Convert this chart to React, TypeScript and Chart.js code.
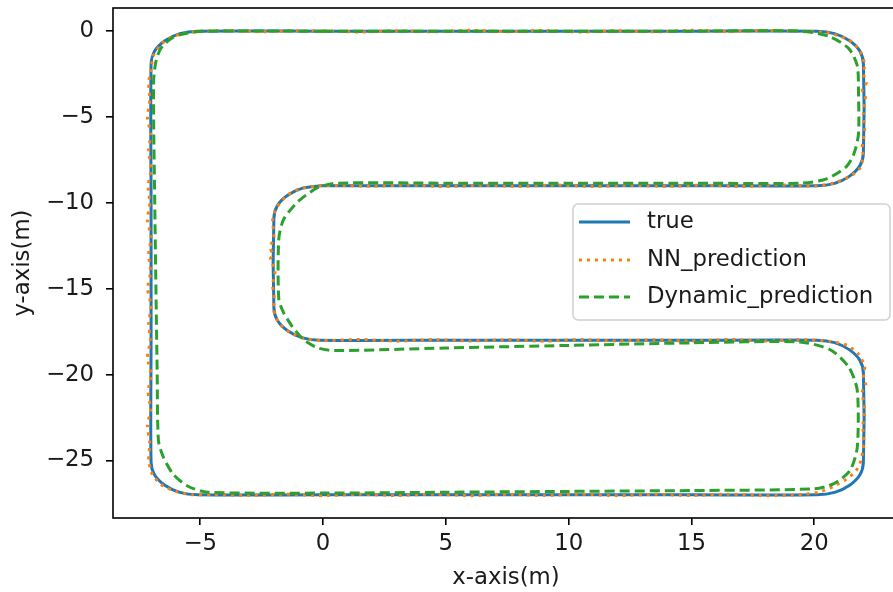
import React, { useEffect, useRef } from "react";
import { Chart, registerables } from "chart.js";

Chart.register(...registerables);

// ---- data ----
const trueX = [0, 5, 10, 15, 20.1, 20.83, 21.44, 21.86, 22, 22, 21.86, 21.44, 20.83, 20.1, 15, 10, 5, 0, -0.1, -0.83, -1.44, -1.86, -2, -2, -1.86, -1.44, -0.83, -0.1, 5, 10, 15, 20.1, 20.83, 21.44, 21.86, 22, 22, 21.86, 21.44, 20.83, 20.1, 15, 10, 5, 0, -5.1, -5.83, -6.44, -6.86, -7, -7, -7, -7, -6.86, -6.44, -5.83, -5.1, 0];
const trueY = [0, 0, 0, 0, 0, -0.14, -0.56, -1.17, -1.9, -7.1, -7.83, -8.44, -8.86, -9, -9, -9, -9, -9, -9, -9.14, -9.56, -10.17, -10.9, -16.1, -16.83, -17.44, -17.86, -18, -18, -18, -18, -18, -18.14, -18.56, -19.17, -19.9, -25.1, -25.83, -26.44, -26.86, -27, -27, -27, -27, -27, -27, -26.86, -26.44, -25.83, -25.1, -18, -10, -1.9, -1.17, -0.56, -0.14, 0, 0];

const nnX = [0, 1.5, 3, 4.5, 6, 7.5, 9, 10.5, 12, 13.5, 15, 16.5, 18, 19.5, 20.6, 21.4, 21.85, 22.05, 22.0, 22.12, 21.95, 22.08, 22.0, 22.05, 21.95, 22.0, 21.85, 21.4, 20.8, 20.0, 18.5, 17, 15.5, 14, 12.5, 11, 9.5, 8, 6.5, 5, 3.5, 2, 0.5, -0.3, -1.0, -1.5, -1.9, -2.05, -2.0, -2.15, -2.05, -2.15, -1.95, -2.05, -1.98, -2.02, -1.8, -1.35, -0.75, 0, 1.5, 3, 4.5, 6, 7.5, 9, 10.5, 12, 13.5, 15, 16.5, 18, 19.5, 20.6, 21.35, 21.8, 22.05, 22.0, 22.1, 21.95, 22.05, 21.98, 22.02, 21.9, 21.7, 21.3, 20.8, 20.2, 19.5, 18, 16.5, 15, 13.5, 12, 10.5, 9, 7.5, 6, 4.5, 3, 1.5, 0, -1.5, -3, -4.5, -5.3, -6.0, -6.6, -6.95, -7.1, -7.05, -7.15, -7.02, -7.12, -7.0, -7.15, -7.03, -7.1, -7.0, -7.14, -7.02, -7.1, -7.0, -7.15, -7.05, -7.12, -7.0, -7.1, -7.02, -7.15, -7.05, -7.1, -7.0, -6.9, -6.55, -6.0, -5.2, -4, -2.5, -1, 0];
const nnY = [0.02, -0.05, 0.03, -0.04, 0.05, -0.03, 0.04, -0.05, 0.03, -0.04, 0.05, -0.03, 0.04, -0.02, -0.1, -0.5, -1.1, -1.9, -2.5, -3.0, -3.4, -3.8, -4.8, -5.8, -6.8, -7.3, -8.0, -8.5, -8.85, -9.02, -8.95, -9.05, -8.96, -9.04, -8.97, -9.05, -8.96, -9.04, -8.97, -9.05, -8.96, -9.03, -8.98, -9.02, -9.2, -9.6, -10.3, -11.0, -12.0, -12.6, -13.0, -13.3, -13.9, -14.8, -15.6, -16.2, -17.0, -17.55, -17.9, -18.02, -17.95, -18.05, -17.96, -18.04, -17.97, -18.05, -17.96, -18.04, -17.97, -18.05, -17.95, -18.04, -17.97, -18.05, -18.3, -18.8, -19.5, -20.2, -20.6, -21.0, -22.0, -23.0, -24.0, -25.0, -25.6, -26.1, -26.5, -26.85, -26.98, -27.05, -26.96, -27.04, -26.97, -27.05, -26.96, -27.04, -26.97, -27.05, -26.96, -27.04, -26.97, -27.05, -26.96, -27.04, -26.98, -27.0, -26.8, -26.4, -25.8, -25.0, -24, -23, -22, -21, -20, -19, -18, -17, -16, -15, -14, -13, -12, -11, -10, -9, -8, -7, -6, -5, -4, -3, -2.2, -1.4, -0.7, -0.25, -0.02, 0.03, -0.03, 0.02, 0];

const dynX = [0, 5, 10, 15, 19.5, 20.6, 21.4, 21.75, 21.8, 21.8, 21.6, 21.3, 20.5, 19.5, 15, 10, 5, 0.6, -0.2, -1.0, -1.6, -1.8, -1.8, -1.6, -1.25, -0.8, -0.2, 0.45, 5, 10, 15, 19.4, 20.65, 21.4, 21.75, 21.75, 21.45, 20.8, 20, 15, 10, 5, 0, -4.7, -5.5, -6.1, -6.5, -6.7, -6.75, -6.85, -6.9, -6.8, -6.6, -6.1, -5.5, -4.7, 0];
const dynY = [0, 0, 0, 0, 0, -0.3, -1.0, -2.0, -3.5, -6.0, -7.2, -7.9, -8.6, -8.85, -8.85, -8.85, -8.85, -8.85, -9.1, -9.9, -10.95, -12.1, -15.6, -16.4, -17.2, -17.95, -18.45, -18.6, -18.45, -18.3, -18.15, -18.1, -18.55, -19.55, -20.9, -24.25, -25.6, -26.35, -26.65, -26.75, -26.8, -26.85, -26.9, -26.85, -26.5, -25.8, -24.8, -23.85, -20, -10, -3, -1.75, -1.0, -0.35, -0.1, 0, 0];

const seriesLabels = ["true", "NN_prediction", "Dynamic_prediction"];
const seriesColors = ["#1f77b4", "#ff7f0e", "#2ca02c"];
const xTickVals = [-5, 0, 5, 10, 15, 20];
const yTickVals = [-25, -20, -15, -10, -5, 0];
const xLabel = "x-axis(m)";
const yLabel = "y-axis(m)";

const FONT = "'DejaVu Sans', sans-serif";
const FS = 22.8;

const toPts = (xs: number[], ys: number[]) => xs.map((x, i) => ({ x, y: ys[i] }));
const fmt = (v: number) => (v < 0 ? "\u2212" + Math.abs(v) : String(v));

const frameAndLegend = {
  id: "frameAndLegend",
  afterDatasetsDraw(chart: any) {
    const { ctx, chartArea } = chart;
    ctx.save();
    ctx.strokeStyle = "#000";
    ctx.lineWidth = 1.6;
    ctx.strokeRect(chartArea.left, chartArea.top, chartArea.right - chartArea.left, chartArea.bottom - chartArea.top);
    // legend
    const bx = 573, by = 204, bw = 317, bh = 116, r = 5;
    ctx.beginPath();
    ctx.moveTo(bx + r, by);
    ctx.arcTo(bx + bw, by, bx + bw, by + bh, r);
    ctx.arcTo(bx + bw, by + bh, bx, by + bh, r);
    ctx.arcTo(bx, by + bh, bx, by, r);
    ctx.arcTo(bx, by, bx + bw, by, r);
    ctx.closePath();
    ctx.fillStyle = "rgba(255,255,255,0.8)";
    ctx.fill();
    ctx.strokeStyle = "#d0d0d0";
    ctx.lineWidth = 1.5;
    ctx.stroke();
    const rows = [222, 260, 297];
    const dashes = [[], [3, 5], [10, 5]];
    [0, 1, 2].forEach((i) => {
      const ds = chart.data.datasets[i];
      ctx.beginPath();
      ctx.setLineDash(dashes[i]);
      ctx.strokeStyle = ds.borderColor;
      ctx.lineWidth = 3;
      ctx.moveTo(579, rows[i]);
      ctx.lineTo(630, rows[i]);
      ctx.stroke();
      ctx.setLineDash([]);
      ctx.fillStyle = "#1a1a1a";
      ctx.font = `${FS}px ${FONT}`;
      ctx.textBaseline = "middle";
      ctx.textAlign = "left";
      ctx.fillText(ds.label, 647, rows[i]);
    });
    ctx.restore();
  },
};

export default function App() {
  const ref = useRef<HTMLCanvasElement>(null);
  useEffect(() => {
    if (!ref.current) return;
    const chart = new Chart(ref.current, {
      type: "scatter",
      data: {
        datasets: [
          { label: seriesLabels[0], order: 3, data: toPts(trueX, trueY), borderColor: seriesColors[0], borderWidth: 3, showLine: true, pointRadius: 0, fill: false, tension: 0.25 },
          { label: seriesLabels[1], order: 2, data: toPts(nnX, nnY), borderColor: seriesColors[1], borderWidth: 3, borderDash: [3, 5], showLine: true, pointRadius: 0, fill: false, tension: 0.2 },
          { label: seriesLabels[2], order: 1, data: toPts(dynX, dynY), borderColor: seriesColors[2], borderWidth: 3, borderDash: [10, 5], showLine: true, pointRadius: 0, fill: false, tension: 0.25 },
        ] as any,
      },
      options: {
        animation: false,
        responsive: false,
        devicePixelRatio: 1,
        layout: { padding: { left: 0, top: 8, right: 6, bottom: 0 } },
        plugins: { legend: { display: false }, tooltip: { enabled: false } },
        scales: {
          x: {
            type: "linear",
            min: -8.55,
            max: 23.45,
            afterBuildTicks: (s: any) => { s.ticks = xTickVals.map((v) => ({ value: v })); },
            afterFit: (s: any) => { s.height = 74; s.paddingLeft = 0; s.paddingRight = 0; },
            ticks: { callback: (v: any) => fmt(Number(v)), color: "#1a1a1a", font: { family: FONT, size: FS }, padding: 5, maxRotation: 0, autoSkip: false },
            grid: { display: true, drawOnChartArea: false, drawTicks: true, tickLength: 7, color: "#000", lineWidth: 1.6 },
            border: { display: false },
            title: { display: true, text: xLabel, color: "#1a1a1a", font: { family: FONT, size: FS }, padding: { top: 0, bottom: 0 } },
          },
          y: {
            type: "linear",
            min: -28.35,
            max: 1.35,
            afterBuildTicks: (s: any) => { s.ticks = yTickVals.map((v) => ({ value: v })); },
            afterFit: (s: any) => { s.width = 113; s.paddingTop = 0; s.paddingBottom = 0; },
            ticks: { callback: (v: any) => fmt(Number(v)), color: "#1a1a1a", font: { family: FONT, size: FS }, padding: 12, autoSkip: false },
            grid: { display: true, drawOnChartArea: false, drawTicks: true, tickLength: 7, color: "#000", lineWidth: 1.6 },
            border: { display: false },
            title: { display: true, text: yLabel, color: "#1a1a1a", font: { family: FONT, size: FS }, padding: { top: 9, bottom: 0 } },
          },
        },
      } as any,
      plugins: [frameAndLegend],
    });
    return () => chart.destroy();
  }, []);
  return (
    <div style={{ position: "fixed", left: 0, top: 0, width: 893, height: 592, overflow: "hidden", background: "#fff" }}>
      <canvas ref={ref} width={905} height={592} style={{ width: 905, height: 592, display: "block" }} />
    </div>
  );
}
